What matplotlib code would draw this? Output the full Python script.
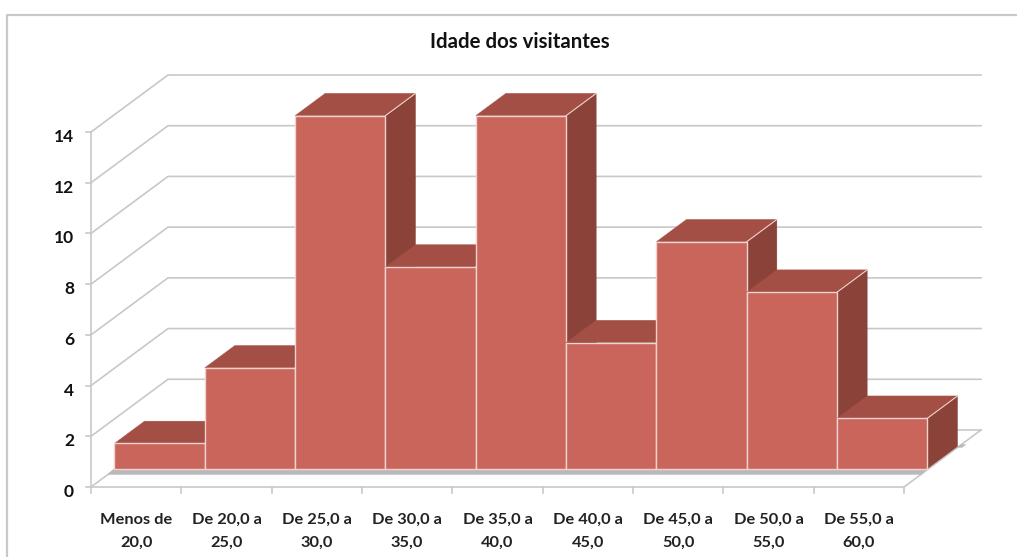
import matplotlib
matplotlib.use("Agg")
import matplotlib.pyplot as plt
from matplotlib.lines import Line2D
from matplotlib.patches import Polygon

# Faixas etarias e contagens
categories = ["Menos de\n20,0", "De 20,0 a\n25,0", "De 25,0 a\n30,0", "De 30,0 a\n35,0",
              "De 35,0 a\n40,0", "De 40,0 a\n45,0", "De 45,0 a\n50,0", "De 50,0 a\n55,0",
              "De 55,0 a\n60,0"]
values = [1, 4, 14, 8, 14, 5, 9, 7, 2]
y_ticks = [0, 2, 4, 6, 8, 10, 12, 14]

W, H = 1017, 557
X_ORIGIN, Y_ORIGIN = 91, 487   # pixel position of category 0 / value 0
X_UNIT = 813 / 9               # pixels per category
Y_UNIT = 355 / 14              # pixels per value
DEPTH_X, DEPTH_Y = 77 / X_UNIT, 57 / Y_UNIT  # full depth of the floor, in data units
BAR_FRONT, BAR_BACK = 0.305, 0.695
BAR_SCALE = 353 / 355          # bars stand slightly shorter than the wall scale
BAR_LIFT = 1 / Y_UNIT          # bars sit one pixel above the computed floor line

FRONT = "#C9655B"
TOP = "#A34F45"
SIDE = "#8A4239"
EDGE = "#EFD3CF"
GRID = "#C8C8C8"
FONT = "Lato"

fig = plt.figure(figsize=(W / 100, H / 100), dpi=100, facecolor="white")
ax = fig.add_axes([0, 0, 1, 1])
ax.set_xlim(-X_ORIGIN / X_UNIT, (W - X_ORIGIN) / X_UNIT)
ax.set_ylim((Y_ORIGIN - H) / Y_UNIT, Y_ORIGIN / Y_UNIT)
ax.axis("off")


def proj(x, v, d=0.0):
    # x category, v value, d depth 0..1 -> axes data coordinates
    return x + d * DEPTH_X, v + d * DEPTH_Y


def poly(points, color, edge=None, z=2):
    ax.add_patch(Polygon(points, closed=True, facecolor=color,
                         edgecolor=edge if edge else color, linewidth=1.0 if edge else 0.3,
                         joinstyle="miter", zorder=z))


n = len(values)

# chart frame
fig.add_artist(Line2D([7 / W, 7 / W, 1], [0, 1 - 15 / H, 1 - 15 / H], color="#C9C9C9", lw=1.6))

# walls
for v in y_ticks:
    ax.plot(*zip(proj(0, v), proj(0, v, 1), proj(n, v, 1)), color=GRID, lw=1.2, zorder=1)
    ax.plot(*zip(proj(0, v), (proj(0, v)[0] - 5 / X_UNIT, v)), color=GRID, lw=1.2, zorder=1)
    ax.text(proj(0, v)[0] - 17 / X_UNIT, v - 5 / Y_UNIT, str(v), ha="right", va="center",
            fontsize=12.5, fontweight="bold", family=FONT, color="#111111")
ax.plot([0, 0], [0, y_ticks[-1]], color=GRID, lw=1.2, zorder=1)

# floor
ax.plot(*zip(proj(0, 0), proj(n, 0), proj(n, 0, 1)), color=GRID, lw=1.2, zorder=1)
for i in range(n + 1):
    ax.plot([i, i], [0, -6 / Y_UNIT], color=GRID, lw=1.2, zorder=1)

# shadow under the bars
shadow = [proj(0, BAR_LIFT, BAR_FRONT), proj(n, BAR_LIFT, BAR_FRONT),
          proj(n, 0, BAR_FRONT * 0.72), proj(0, 0, BAR_FRONT * 0.72)]
poly(shadow, "#B9B9B9", z=1.5)
poly([proj(n, 0, BAR_BACK), proj(n, 0, BAR_BACK + 0.05),
      proj(n + 0.05, 0, BAR_BACK + 0.05), proj(n + 0.05, 0, BAR_BACK)], "#B9B9B9", z=1.5)

# bars, left to right so that each front covers the side of the previous one
for i, value in enumerate(values):
    v = value * BAR_SCALE + BAR_LIFT
    z = 2 + i * 0.1
    poly([proj(i + 1, BAR_LIFT, BAR_FRONT), proj(i + 1, BAR_LIFT, BAR_BACK),
          proj(i + 1, v, BAR_BACK), proj(i + 1, v, BAR_FRONT)], SIDE, z=z)
    poly([proj(i, v, BAR_FRONT), proj(i + 1, v, BAR_FRONT),
          proj(i + 1, v, BAR_BACK), proj(i, v, BAR_BACK)], TOP, z=z)
    ax.plot(*zip(proj(i + 1, v, BAR_FRONT), proj(i + 1, v, BAR_BACK)), color=EDGE, lw=0.8, zorder=z)
    poly([proj(i, BAR_LIFT, BAR_FRONT), proj(i + 1, BAR_LIFT, BAR_FRONT),
          proj(i + 1, v, BAR_FRONT), proj(i, v, BAR_FRONT)], FRONT, edge=EDGE, z=z)

# category labels
for i, label in enumerate(categories):
    ax.text(i + 0.5, -44 / Y_UNIT, label, ha="center", va="center", fontsize=11.8,
            fontweight="bold", family=FONT, color="#222222", linespacing=1.8)

ax.text(429 / X_UNIT, (Y_ORIGIN - 42) / Y_UNIT, "Idade dos visitantes", ha="center",
        va="center", fontsize=14.7, fontweight="bold", family=FONT, color="#111111")

fig.savefig("out.png", dpi=100)
